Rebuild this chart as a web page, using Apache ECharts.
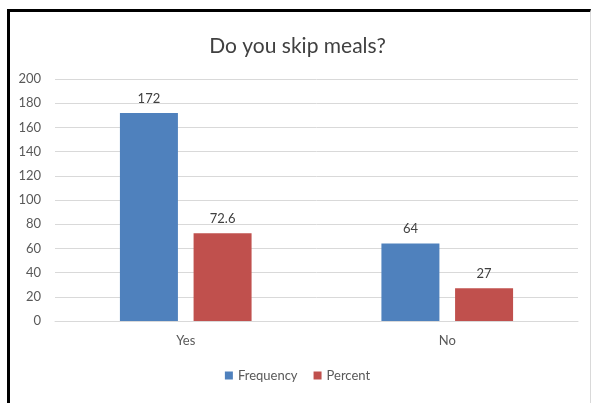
<!DOCTYPE html>
<html>
<head>
<meta charset="utf-8">
<script src="https://cdn.jsdelivr.net/npm/echarts@6/dist/echarts.min.js"></script>
<style>
html,body{margin:0;padding:0;background:#fff;}
#frame{position:absolute;left:7px;top:9px;width:584px;height:420px;border-left:3px solid #000;border-top:3px solid #000;border-right:1px solid #d9d9d9;box-sizing:border-box;pointer-events:none;z-index:2;}
#chart{position:absolute;left:0;top:0;width:595px;height:403px;}
</style>
</head>
<body>
<div id="chart"></div>
<div id="frame"></div>
<script>
const categories = ["Yes", "No"];
const frequency = [172, 64];
const percent = [72.6, 27];
const yTicks = {min: 0, max: 200, interval: 20};

const chart = echarts.init(document.getElementById('chart'), null, {renderer: 'canvas'});
const font = 'Lato, "Liberation Sans", sans-serif';
chart.setOption({
  animation: false,
  backgroundColor: '#fff',
  title: {
    text: 'Do you skip meals?',
    left: 'center', top: 31,
    textStyle: {fontFamily: font, fontSize: 21, fontWeight: 'normal', color: '#404040'}
  },
  legend: {
    bottom: 16, left: 'center',
    itemWidth: 8, itemHeight: 8, itemGap: 16,
    icon: 'rect',
    textStyle: {fontFamily: font, fontSize: 13, color: '#595959'},
    data: ['Frequency', 'Percent']
  },
  grid: {left: 55, right: 17, top: 79, bottom: 82},
  xAxis: {
    type: 'category', data: categories,
    axisLine: {lineStyle: {color: '#d9d9d9'}},
    axisTick: {show: false},
    axisLabel: {fontFamily: font, fontSize: 13, color: '#595959', margin: 13}
  },
  yAxis: {
    type: 'value', min: yTicks.min, max: yTicks.max, interval: yTicks.interval,
    axisLine: {show: false}, axisTick: {show: false},
    splitLine: {lineStyle: {color: '#d9d9d9'}},
    axisLabel: {fontFamily: font, fontSize: 13, color: '#595959', margin: 14}
  },
  series: [
    {name: 'Frequency', type: 'bar', data: frequency, barWidth: 58, barGap: '27%',
     itemStyle: {color: '#4F81BD'},
     label: {show: true, position: 'top', distance: 8, fontFamily: font, fontSize: 13, color: '#404040'}},
    {name: 'Percent', type: 'bar', data: percent, barWidth: 58,
     itemStyle: {color: '#C0504D'},
     label: {show: true, position: 'top', distance: 8, fontFamily: font, fontSize: 13, color: '#404040'}}
  ]
});
</script>
</body>
</html>
